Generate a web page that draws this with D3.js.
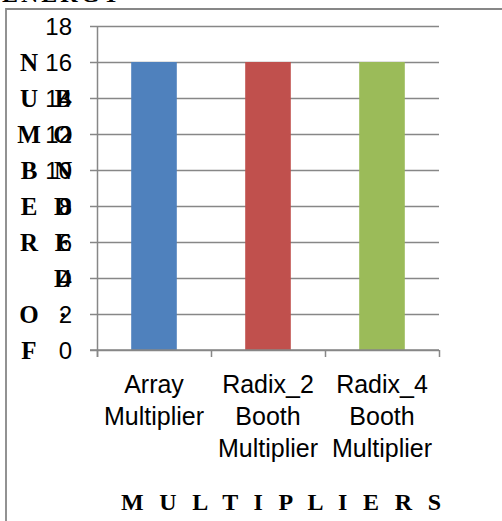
<!DOCTYPE html>
<html lang="en">
<head>
  <meta charset="UTF-8">
  <title>Multipliers</title>
  <style>
    * {
      margin: 0;
      padding: 0;
    }
    body {
      background: #fff;
    }
    .tick text {
      font-family: "Liberation Sans", Arial, sans-serif;
    }
  </style>
</head>
<body>
  <script src="https://d3js.org/d3.v7.min.js"></script>
  <script>
    const categories = [
      ['Array', 'Multiplier'],
      ['Radix_2', 'Booth', 'Multiplier'],
      ['Radix_4', 'Booth', 'Multiplier'],
    ];
    const values = [16, 16, 16];
    const colors = ['#4f81bd', '#c0504d', '#9bbb59'];
    const yTicks = [0, 2, 4, 6, 8, 10, 12, 14, 16, 18];
    const yTitle1 = ['N', 'U', 'M', 'B', 'E', 'R', '', 'O', 'F'];
    const yTitle2 = ['B', 'O', 'N', 'D', 'E', 'D', '·'];
    const xTitle = 'M U L T I P L I E R S';

    const outerWidth = 502;
    const outerHeight = 521;
    const padding = {
      left: 97,
      right: 63,
      top: 26,
      bottom: 171,
    };
    const innerWidth = outerWidth - padding.left - padding.right;
    const innerHeight = outerHeight - padding.top - padding.bottom;
    const gray = '#878787';

    const svg = d3.select('body')
      .append('svg')
      .attr('width', outerWidth)
      .attr('height', outerHeight)

    // frame of the picture (cut at right and bottom)
    svg.append('path')
      .attr('d', `M6,${outerHeight}V9H${outerWidth}`)
      .attr('fill', 'none')
      .attr('stroke', gray)
      .attr('stroke-width', 1.8)

    // heading above the frame, only its bottom shows
    svg.append('text')
      .attr('x', 2)
      .attr('y', 2)
      .attr('font-family', '"Liberation Serif", serif')
      .attr('font-weight', 'bold')
      .attr('font-size', 24)
      .attr('letter-spacing', 3)
      .text('ENERGY')

    const names = categories.map(d => d.join(' '))

    const xScale = d3.scaleBand()
      .domain(names)
      .range([0, innerWidth])
      .paddingInner(0.6)
      .paddingOuter(0.3)

    const yScale = d3.scaleLinear()
      .domain([0, 18])
      .range([innerHeight, 0])

    const g = svg.append('g')
      .attr('transform', `translate(${padding.left}, ${padding.top})`)

    // grid
    g.append('g')
      .call(d3.axisLeft(yScale).tickValues(yTicks).tickSize(-innerWidth).tickFormat(''))
      .call(s => s.select('.domain').remove())
      .selectAll('line')
      .attr('stroke', gray)
      .attr('stroke-width', 1.5)

    // y axis
    const yAxis = g.append('g')
      .call(d3.axisLeft(yScale).tickValues(yTicks).tickSize(7).tickPadding(18).tickSizeOuter(0))
    yAxis.selectAll('line').attr('stroke', gray).attr('stroke-width', 1.5)
    yAxis.select('.domain').attr('stroke', gray).attr('stroke-width', 1.5)
      .attr('d', `M0.5,0V${innerHeight + 7}`)
    yAxis.selectAll('text')
      .attr('font-size', 24)
      .attr('fill', '#000')
      .attr('dy', '0.35em')

    // bars
    g.selectAll('rect')
      .data(values)
      .enter()
      .append('rect')
      .attr('x', (d, i) => xScale(names[i]))
      .attr('y', d => yScale(d))
      .attr('width', xScale.bandwidth())
      .attr('height', d => innerHeight - yScale(d))
      .attr('fill', (d, i) => colors[i])

    // x axis
    const xAxis = g.append('g')
      .attr('transform', `translate(0, ${innerHeight})`)
    xAxis.append('line')
      .attr('x1', -7)
      .attr('x2', innerWidth)
      .attr('stroke', gray)
      .attr('stroke-width', 1.5)
    xAxis.selectAll('.xtick')
      .data(d3.range(names.length + 1))
      .enter()
      .append('line')
      .attr('class', 'xtick')
      .attr('x1', i => i * xScale.step() + 0.5)
      .attr('x2', i => i * xScale.step() + 0.5)
      .attr('y2', 7)
      .attr('stroke', gray)
      .attr('stroke-width', 1.5)

    const labels = xAxis.selectAll('.xlabel')
      .data(categories)
      .enter()
      .append('text')
      .attr('class', 'xlabel')
      .attr('text-anchor', 'middle')
      .attr('font-family', '"Liberation Sans", Arial, sans-serif')
      .attr('font-size', 25)
      .attr('y', 43)
    labels.selectAll('tspan')
      .data((d, i) => d.map(t => ({ t, x: xScale(names[i]) + xScale.bandwidth() / 2 })))
      .enter()
      .append('tspan')
      .attr('x', d => d.x)
      .attr('dy', (d, i) => i === 0 ? 0 : 32)
      .text(d => d.t)

    // x title
    svg.append('text')
      .attr('x', 121)
      .attr('y', 510)
      .attr('font-family', '"Liberation Serif", serif')
      .attr('font-weight', 'bold')
      .attr('font-size', 24)
      .attr('textLength', 320)
      .attr('lengthAdjust', 'spacing')
      .text(xTitle)

    // y title, two stacked columns
    const serif = '"Liberation Serif", serif';
    svg.append('g')
      .selectAll('text')
      .data(yTitle1)
      .enter()
      .append('text')
      .attr('x', 29)
      .attr('y', (d, i) => padding.top + yScale(16 - i * 2))
      .attr('dy', '0.35em')
      .attr('text-anchor', 'middle')
      .attr('font-family', serif)
      .attr('font-weight', 'bold')
      .attr('font-size', 25)
      .text(d => d)

    svg.append('g')
      .selectAll('text')
      .data(yTitle2)
      .enter()
      .append('text')
      .attr('x', 63)
      .attr('y', (d, i) => padding.top + yScale(14 - i * 2))
      .attr('dy', '0.35em')
      .attr('text-anchor', 'middle')
      .attr('font-family', serif)
      .attr('font-weight', 'bold')
      .attr('font-size', 25)
      .text(d => d)
  </script>
</body>
</html>
